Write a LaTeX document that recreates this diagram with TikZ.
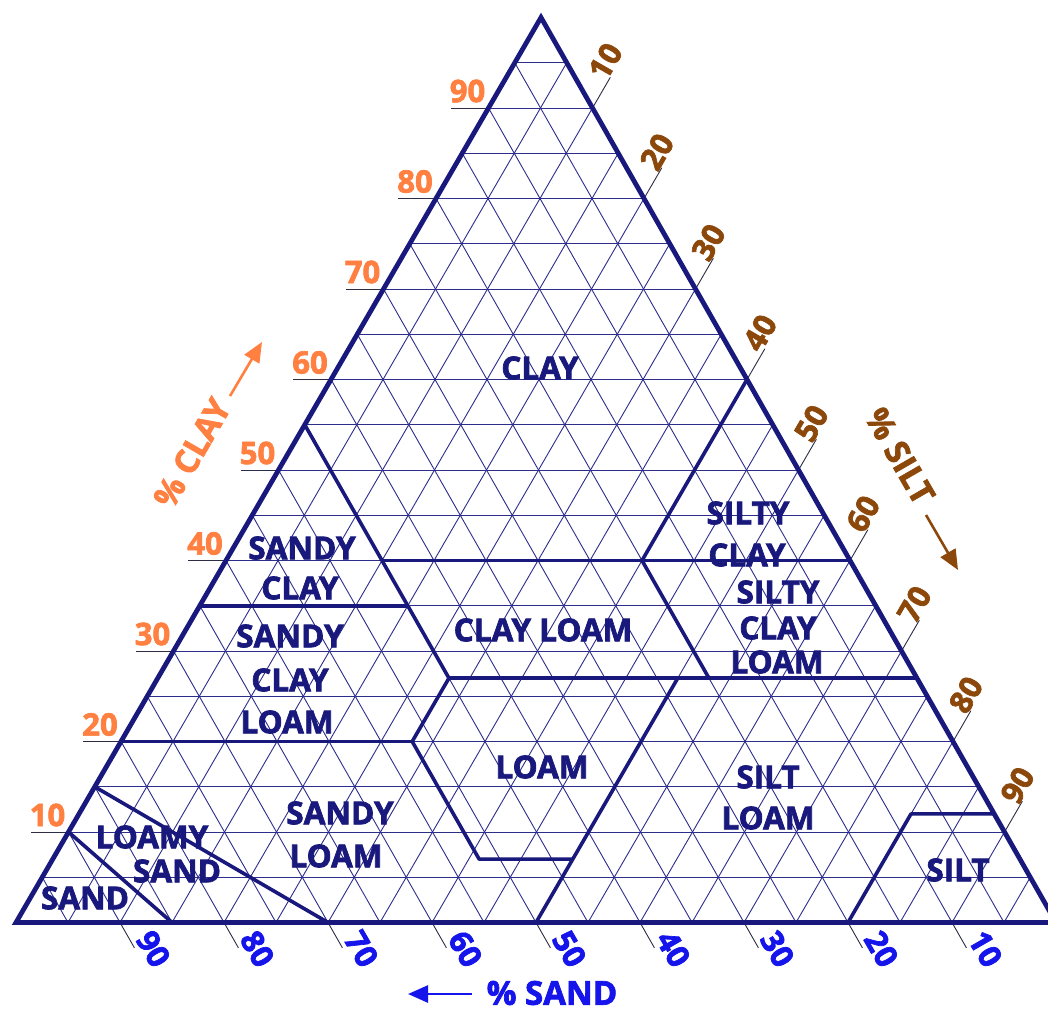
\documentclass[tikz,border=0pt]{standalone}
\usepackage{fontspec}
\setmainfont{Open Sans}[BoldFeatures={FakeBold=2.2}]
\usetikzlibrary{arrows.meta}
\definecolor{navy}{RGB}{25,25,125}
\definecolor{gridc}{RGB}{45,45,140}
\definecolor{clayc}{RGB}{255,128,64}
\definecolor{siltc}{RGB}{140,72,10}
\definecolor{sandc}{RGB}{20,20,235}
\definecolor{tickc}{RGB}{45,45,70}
\tikzset{
  gridline/.style={gridc, line width=0.9pt},
  bound/.style={navy, line width=3.6pt, line join=round},
  outer/.style={navy, line width=4.8pt, line join=miter},
  tickline/.style={tickc, line width=0.9pt},
  reglab/.style={text=navy, font=\bfseries\fontsize{31.5}{36}\selectfont, inner sep=0pt},
  numlab/.style={font=\bfseries\fontsize{31}{36}\selectfont, inner sep=0pt},
  axlab/.style={font=\bfseries\fontsize{33}{38}\selectfont, inner sep=0pt},
  axarrow/.style={line width=2.6pt, -{Triangle[length=20pt,width=17pt]}},
}
\begin{document}
\begin{tikzpicture}[x=1pt,y=-1pt]
\useasboundingbox (0,0) rectangle (1048,1011);
\fill[white] (0,0) rectangle (1048,1011);
\begin{scope}[shift={(16pt,-922.5pt)}, x={(10.40pt,0pt)}, y={(5.25pt,9.05pt)}]
  % grid every 5 percent
  \foreach \v in {5,10,...,95}{
    \draw[gridline] (0,\v) -- ({100-\v},\v);
    \draw[gridline] (\v,0) -- (\v,{100-\v});
    \draw[gridline] (\v,0) -- (0,\v);
  }
  % ticks and numbers
  \foreach \v in {10,20,...,90}{
    \draw[tickline] (0,\v) -- (-3.65,\v);
    \node[numlab, text=clayc, xshift=-21pt, yshift=17pt] (cl\v) at (0,\v) {\v};
    \draw[tickline] (\v,{100-\v}) -- (\v,{103.4-\v});
    \node[numlab, text=siltc, xshift=-5pt, yshift=16pt, rotate=60] (si\v) at (\v,{103.4-\v}) {\v};
    \draw[tickline] ({100-\v},0) -- ({102.8-\v},-2.8);
    \node[numlab, text=sandc, xshift=19pt, yshift=-1pt, rotate=-60] (sa\v) at ({102.8-\v},-2.8) {\v};
  }
  % class boundaries
  \draw[bound] (0,55) -- (28,27);
  \draw[bound] (15,40) -- (60,40);
  \draw[bound] (40,60) -- (40,40) -- (53,27);
  \draw[bound] (0,35) -- (20,35);
  \draw[bound] (28,27) -- (73,27);
  \draw[bound] (0,20) -- (28,20);
  \draw[bound] (28,27) -- (28,20) -- (41,7) -- (50,7);
  \draw[bound] (50,0) -- (50,27);
  \draw[bound] (0,15) -- (30,0);
  \draw[bound] (0,10) -- (15,0);
  \draw[bound] (80,0) -- (80,12) -- (88,12);
  \draw[outer] (0,0) -- (100,0) -- (0,100) -- cycle;
\end{scope}
% class names
\node[reglab] (n1) at (540,368) {CLAY};
\node[reglab] (n2) at (748,513) {SILTY};
\node[reglab] (n3) at (747,555) {CLAY};
\node[reglab] (n4) at (778,592) {SILTY};
\node[reglab] (n5) at (778,628) {CLAY};
\node[reglab] (n6) at (777,662) {LOAM};
\node[reglab] (n7) at (543,630) {CLAY LOAM};
\node[reglab] (n8) at (542,767) {LOAM};
\node[reglab] (n9) at (302,548) {SANDY};
\node[reglab] (n10) at (300,588) {CLAY};
\node[reglab] (n11) at (290,636) {SANDY};
\node[reglab] (n12) at (290,680) {CLAY};
\node[reglab] (n13) at (287,722) {LOAM};
\node[reglab] (n14) at (340,813) {SANDY};
\node[reglab] (n15) at (336,856) {LOAM};
\node[reglab] (n16) at (152,837) {LOAMY};
\node[reglab] (n17) at (177,871) {SAND};
\node[reglab] (n18) at (85,898) {SAND};
\node[reglab] (n19) at (768,777) {SILT};
\node[reglab] (n20) at (768,818) {LOAM};
\node[reglab] (n21) at (958,870) {SILT};
% axis titles
\node[axlab, text=clayc, rotate=60] (tc) at (192,453) {\% CLAY};
\coordinate (ca1) at (230,396); \coordinate (ca2) at (262,342);
\draw[axarrow, clayc] (ca1) -- (ca2);
\node[axlab, text=siltc, rotate=-60] (ts) at (900,456) {\% SILT};
\coordinate (sa1) at (926,515); \coordinate (sa2) at (958,570);
\draw[axarrow, siltc] (sa1) -- (sa2);
\node[axlab, text=sandc] (td) at (552,993) {\% SAND};
\coordinate (da1) at (472,994); \coordinate (da2) at (408,994);
\draw[axarrow, sandc] (da1) -- (da2);
\end{tikzpicture}
\end{document}
